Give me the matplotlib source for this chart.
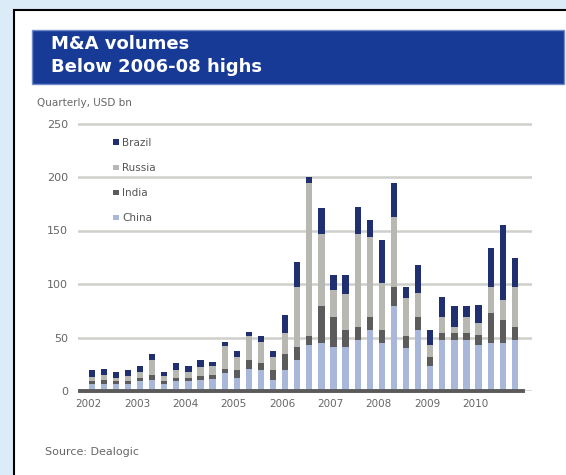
import matplotlib
matplotlib.use('Agg')
import matplotlib.pyplot as plt
import matplotlib.patches as mpatches
import numpy as np

# quarterly M&A volumes, USD bn, 2002Q1 - 2010Q4
YEARS = ['2002', '2003', '2004', '2005', '2006', '2007', '2008', '2009', '2010']
BRAZIL = [7, 6, 6, 6, 5, 6, 4, 6, 5, 7, 4, 4,
          5, 4, 5, 5, 17, 24, 6, 24, 14, 17, 25, 16,
          40, 31, 10, 26, 14, 19, 19, 10, 16, 37, 70, 27]
RUSSIA = [4, 5, 3, 5, 6, 14, 5, 8, 6, 8, 8, 21,
          12, 22, 20, 12, 19, 56, 143, 68, 25, 34, 87, 75,
          44, 66, 36, 23, 11, 15, 6, 15, 12, 24, 19, 37]
INDIA = [2, 3, 2, 2, 3, 5, 2, 3, 3, 4, 4, 4,
         8, 8, 6, 10, 15, 12, 8, 34, 28, 16, 12, 12,
         12, 18, 11, 12, 9, 6, 6, 6, 9, 28, 21, 12]
CHINA = [7, 7, 7, 7, 9, 10, 7, 9, 9, 10, 11, 17,
         12, 21, 20, 10, 20, 29, 43, 45, 41, 41, 48, 57,
         45, 79, 40, 57, 23, 48, 48, 48, 43, 45, 45, 48]

SERIES = ['Brazil', 'Russia', 'India', 'China']
COLORS = {'Brazil': '#1f2f70', 'Russia': '#b8b8b3', 'India': '#5c5c5c', 'China': '#a9b8da'}

W, H = 566, 475
plt.rcParams['font.family'] = ['DejaVu Sans']
fig = plt.figure(figsize=(W / 100, H / 100), dpi=100, facecolor='#dcebf8')

# white panel with black frame
fig.patches.append(mpatches.Rectangle((14 / W, -0.02), 1.0, 1 - 10 / H + 0.02,
                                      transform=fig.transFigure, facecolor='white',
                                      edgecolor='black', linewidth=1.5, zorder=-2))
# title band
fig.patches.append(mpatches.Rectangle((32 / W, 1 - 84 / H), (564 - 32) / W, 54 / H,
                                      transform=fig.transFigure, facecolor='#173a97',
                                      edgecolor='#6f8cc8', linewidth=1.0, zorder=-1))
fig.text(51 / W, 1 - 44 / H, 'M&A volumes', color='white', fontsize=13,
         fontweight='bold', va='center', ha='left')
fig.text(51 / W, 1 - 67 / H, 'Below 2006-08 highs', color='white', fontsize=13,
         fontweight='bold', va='center', ha='left')
fig.text(37 / W, 1 - 103 / H, 'Quarterly, USD bn', color='#666666', fontsize=7.5,
         va='center', ha='left')
fig.text(45 / W, 1 - 452 / H, 'Source: Dealogic', color='#666666', fontsize=8,
         va='center', ha='left')

ax_left, ax_right = 78, 532
ax_bottom, ax_top = 391, 391 - 255 * 1.07
ax = fig.add_axes([ax_left / W, 1 - ax_bottom / H, (ax_right - ax_left) / W,
                   (ax_bottom - ax_top) / H])
ax.set_zorder(2)
ax.set_facecolor('none')

x = np.arange(len(CHINA))
data = {'Brazil': BRAZIL, 'Russia': RUSSIA, 'India': INDIA, 'China': CHINA}
bottom = np.zeros(len(x))
handles = {}
for name in ['China', 'India', 'Russia', 'Brazil']:
    vals = np.array(data[name])
    handles[name] = ax.bar(x, vals, width=0.52, bottom=bottom, color=COLORS[name],
                           label=name, zorder=3)
    bottom += vals

ax.set_ylim(0, 255)
ax.set_xlim(-1.13, 36.42)
ax.set_yticks([0, 50, 100, 150, 200, 250])
ax.set_xticks(np.arange(0, len(x), 4) - 0.25)
ax.set_xticklabels(YEARS)
ax.yaxis.grid(True, color='#cfcfcb', linewidth=1.8)
ax.set_axisbelow(True)
for s in ax.spines.values():
    s.set_visible(False)
ax.tick_params(axis='both', length=0, labelcolor='#666666')
ax.tick_params(axis='y', pad=7, labelsize=8)
ax.tick_params(axis='x', pad=6, labelsize=7.5)

# baseline
ax.plot([-0.97, 35.67], [0, 0], color='#5a5a5a', linewidth=2.8, zorder=4, clip_on=False)

leg = ax.legend([handles[n] for n in SERIES], SERIES, loc='upper left',
                bbox_to_anchor=((113 - ax_left) / (ax_right - ax_left), (391 - 138) / (ax_bottom - ax_top)),
                frameon=False, fontsize=7.5, handlelength=0.6, handleheight=0.45,
                handletextpad=0.3, labelspacing=1.45, borderpad=0, borderaxespad=0)
for t in leg.get_texts():
    t.set_color('#555555')

fig.savefig('out.png', dpi=100, facecolor=fig.get_facecolor())
